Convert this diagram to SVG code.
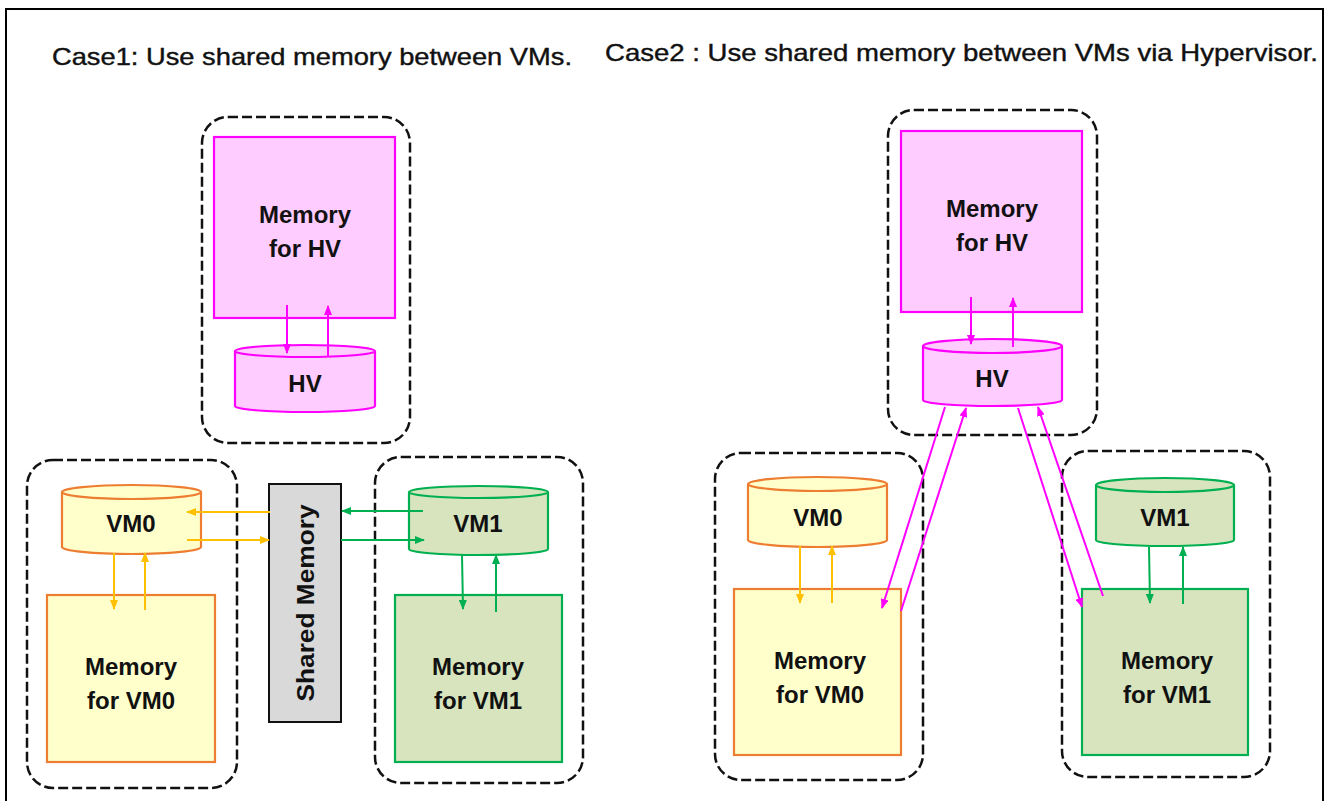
<svg xmlns="http://www.w3.org/2000/svg" width="1328" height="801" viewBox="0 0 1328 801">
<style>
.title{font-family:"Liberation Sans",Arial,sans-serif;font-size:24px;fill:#111;stroke:#111;stroke-width:0.4}
.lbl{font-family:"Liberation Sans",Arial,sans-serif;font-size:24px;font-weight:bold;fill:#111;text-anchor:middle}
.dash{fill:#fff;stroke:#111;stroke-width:2.5;stroke-dasharray:10 4}
.hv{fill:#ffccff;stroke:#ff00ff;stroke-width:2.2}
.vm0{fill:#ffffcc;stroke:#ed7d31;stroke-width:2.2}
.vm1{fill:#d7e4bd;stroke:#00b050;stroke-width:2.2}
.shm{fill:#d9d9d9;stroke:#111;stroke-width:2}
.am{stroke:#ff00ff;stroke-width:2;fill:none;marker-end:url(#mm)}
.ag{stroke:#ffc000;stroke-width:2;fill:none;marker-end:url(#mg)}
.an{stroke:#00b050;stroke-width:2;fill:none;marker-end:url(#mn)}
</style>
<defs>
<marker id="mm" markerUnits="userSpaceOnUse" markerWidth="10" markerHeight="8" refX="9" refY="4" orient="auto"><path d="M0,0 L10,4 L0,8 z" fill="#ff00ff"/></marker>
<marker id="mg" markerUnits="userSpaceOnUse" markerWidth="10" markerHeight="8" refX="9" refY="4" orient="auto"><path d="M0,0 L10,4 L0,8 z" fill="#ffc000"/></marker>
<marker id="mn" markerUnits="userSpaceOnUse" markerWidth="10" markerHeight="8" refX="9" refY="4" orient="auto"><path d="M0,0 L10,4 L0,8 z" fill="#00b050"/></marker>
</defs>
<rect x="0" y="0" width="1328" height="801" fill="#fff"/>
<rect x="6" y="9" width="1317" height="810" fill="none" stroke="#000" stroke-width="2"/>
<text class="title" x="52" y="65" textLength="520" lengthAdjust="spacingAndGlyphs">Case1: Use shared memory between VMs.</text>
<text class="title" x="605" y="61" textLength="713" lengthAdjust="spacingAndGlyphs">Case2 : Use shared memory between VMs via Hypervisor.</text>

<!-- Case 1 -->
<g id="c1-hv-group"><rect class="dash" x="202" y="117" width="208" height="326" rx="26"/></g>
<g id="c1-vm0-group"><rect class="dash" x="27" y="460" width="210" height="328" rx="26"/></g>
<g id="c1-vm1-group"><rect class="dash" x="375" y="457" width="208" height="326" rx="26"/></g>

<g id="c1-mem-hv"><rect class="hv" x="214" y="137" width="181" height="181"/>
<text class="lbl" x="305" y="223">Memory</text><text class="lbl" x="305" y="257">for HV</text></g>
<g id="c1-hv"><path class="hv" d="M235,351 L235,406 A70,6 0 0 0 375,406 L375,351"/><ellipse class="hv" cx="305" cy="351" rx="70" ry="6"/>
<text class="lbl" x="305" y="392">HV</text></g>
<g id="c1-vm0"><path class="vm0" d="M62,492 L62,547 A69.5,7 0 0 0 201,547 L201,492"/><ellipse class="vm0" cx="131.5" cy="492" rx="69.5" ry="7"/>
<text class="lbl" x="131" y="532">VM0</text></g>
<g id="c1-mem-vm0"><rect class="vm0" x="47" y="595" width="168" height="167"/>
<text class="lbl" x="131" y="675">Memory</text><text class="lbl" x="131" y="709">for VM0</text></g>
<g id="c1-shared"><rect class="shm" x="269" y="484" width="72" height="238"/>
<text class="lbl" transform="translate(314,603) rotate(-90)" x="0" y="0" textLength="197" lengthAdjust="spacingAndGlyphs">Shared Memory</text></g>
<g id="c1-vm1"><path class="vm1" d="M409,492 L409,549 A69.5,6 0 0 0 548,549 L548,492"/><ellipse class="vm1" cx="478.5" cy="492" rx="69.5" ry="6"/>
<text class="lbl" x="478" y="532">VM1</text></g>
<g id="c1-mem-vm1"><rect class="vm1" x="395" y="595" width="167" height="167"/>
<text class="lbl" x="478" y="675">Memory</text><text class="lbl" x="478" y="709">for VM1</text></g>

<!-- Case 2 -->
<g id="c2-hv-group"><rect class="dash" x="888" y="110" width="209" height="325" rx="26"/></g>
<g id="c2-vm0-group"><rect class="dash" x="715" y="453" width="208" height="327" rx="26"/></g>
<g id="c2-vm1-group"><rect class="dash" x="1062" y="451" width="208" height="326" rx="26"/></g>

<g id="c2-mem-hv"><rect class="hv" x="901" y="131" width="181" height="181"/>
<text class="lbl" x="992" y="217">Memory</text><text class="lbl" x="992" y="251">for HV</text></g>
<g id="c2-hv"><path class="hv" d="M923,346 L923,400 A69.5,6 0 0 0 1062,400 L1062,346"/><ellipse class="hv" cx="992.5" cy="346" rx="69.5" ry="7"/>
<text class="lbl" x="992" y="387">HV</text></g>
<g id="c2-vm0"><path class="vm0" d="M748,484 L748,540 A69.5,7 0 0 0 887,540 L887,484"/><ellipse class="vm0" cx="817.5" cy="484" rx="69.5" ry="7"/>
<text class="lbl" x="818" y="526">VM0</text></g>
<g id="c2-mem-vm0"><rect class="vm0" x="734" y="589" width="167" height="166"/>
<text class="lbl" x="820" y="669">Memory</text><text class="lbl" x="820" y="703">for VM0</text></g>
<g id="c2-vm1"><path class="vm1" d="M1096,485 L1096,540 A69,6 0 0 0 1234,540 L1234,485"/><ellipse class="vm1" cx="1165" cy="485" rx="69" ry="7"/>
<text class="lbl" x="1165" y="526">VM1</text></g>
<g id="c2-mem-vm1"><rect class="vm1" x="1082" y="589" width="166" height="166"/>
<text class="lbl" x="1167" y="669">Memory</text><text class="lbl" x="1167" y="703">for VM1</text></g>

<g id="connectors">
<line class="am" x1="287" y1="305" x2="287" y2="353"/>
<line class="am" x1="328" y1="356" x2="328" y2="306"/>
<line class="ag" x1="114" y1="553" x2="114" y2="609"/>
<line class="ag" x1="145" y1="610" x2="145" y2="553"/>
<line class="ag" x1="270" y1="512" x2="187" y2="512"/>
<line class="ag" x1="187" y1="540" x2="269" y2="540"/>
<line class="an" x1="423" y1="511" x2="342" y2="511"/>
<line class="an" x1="341" y1="540" x2="424" y2="540"/>
<line class="an" x1="462" y1="555" x2="463" y2="609"/>
<line class="an" x1="496" y1="612" x2="496" y2="555"/>

<line class="am" x1="971" y1="297" x2="971" y2="344"/>
<line class="am" x1="1013" y1="347" x2="1013" y2="298"/>
<line class="ag" x1="800" y1="546" x2="800" y2="603"/>
<line class="ag" x1="832" y1="603" x2="832" y2="546"/>
<line class="an" x1="1149" y1="547" x2="1150" y2="603"/>
<line class="an" x1="1183" y1="604" x2="1183" y2="547"/>
<line class="am" x1="945" y1="407" x2="882" y2="608"/>
<line class="am" x1="901" y1="611" x2="966" y2="408"/>
<line class="am" x1="1018" y1="408" x2="1082" y2="607"/>
<line class="am" x1="1103" y1="596" x2="1038" y2="407"/>
</g>
</svg>
